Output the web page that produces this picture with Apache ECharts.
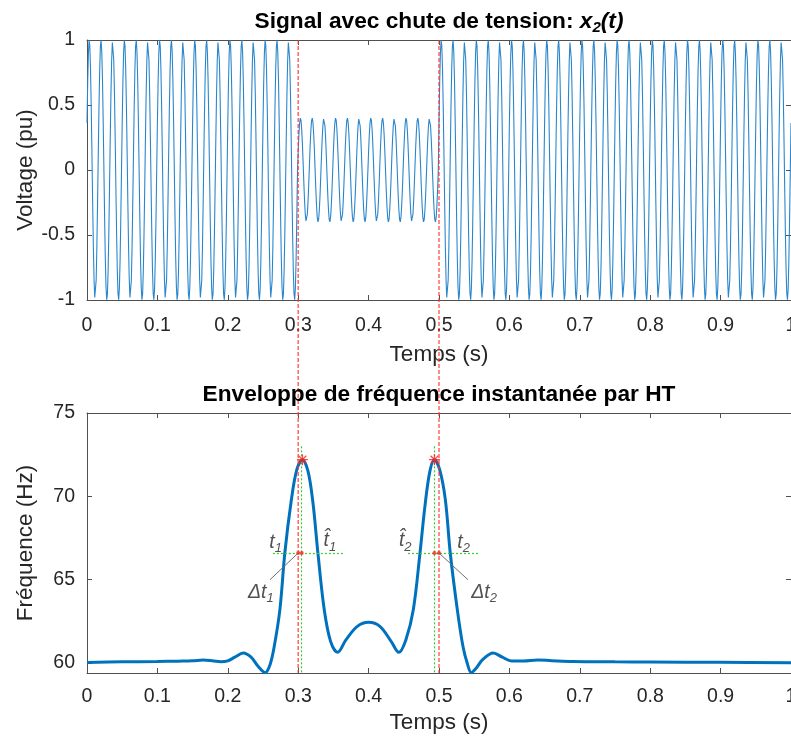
<!DOCTYPE html>
<html><head><meta charset="utf-8">
<script src="https://cdn.jsdelivr.net/npm/echarts@6/dist/echarts.min.js"></script>
<style>html,body{margin:0;padding:0;background:#fff}#c{width:791px;height:737px}</style>
</head><body><div id="c"></div>
<script>
// ---------------- DATA ----------------
const xTicks = [0, 0.1, 0.2, 0.3, 0.4, 0.5, 0.6, 0.7, 0.8, 0.9, 1];
const voltTicks = [-1, -0.5, 0, 0.5, 1];
const freqTicks = [60, 65, 70, 75];

// top signal: 60 Hz sine with a sag between 0.3 s and 0.5 s
const signalFreqHz = 60;
const signalPhaseRad = 0.37;
const segmentStart = [0, 0.3, 0.5];
const segmentEnd = [0.3, 0.5, 1.0001];
const segmentAmp = [1, 0.4, 1];
const sampleRate = 1000;

// bottom: instantaneous frequency envelope (Hz)
const envTime = [0, 0.05, 0.1, 0.13, 0.15, 0.165, 0.18, 0.19, 0.2, 0.21, 0.222, 0.233, 0.243, 0.253, 0.26, 0.266, 0.274, 0.281, 0.29, 0.298, 0.306, 0.314, 0.321, 0.328, 0.337, 0.346, 0.356, 0.368, 0.384, 0.4, 0.416, 0.432, 0.443, 0.453, 0.4635, 0.473, 0.48, 0.487, 0.4935, 0.501, 0.509, 0.516, 0.526, 0.534, 0.54, 0.546, 0.553, 0.562, 0.577, 0.59, 0.603, 0.62, 0.64, 0.66, 0.69, 0.75, 0.8, 0.9, 1.0];
const envFreq = [60.03, 60.07, 60.09, 60.11, 60.13, 60.18, 60.12, 60.08, 60.13, 60.35, 60.6, 60.35, 59.8, 59.42, 59.9, 61.0, 63.2, 66.6, 69.7, 71.6, 72.2, 71.5, 69.6, 66.6, 63.2, 61.3, 60.64, 61.4, 62.2, 62.44, 62.2, 61.3, 60.64, 61.4, 63.2, 66.6, 69.4, 71.5, 72.2, 71.6, 69.8, 66.6, 63.2, 61.0, 60.0, 59.42, 59.7, 60.2, 60.6, 60.35, 60.12, 60.12, 60.18, 60.14, 60.09, 60.07, 60.06, 60.04, 60.02];

const eventTime = [0.3, 0.5];          // red dashed lines (sag start / end)
const peakTime = [0.306, 0.4935];      // red asterisks
const peakFreq = [72.2, 72.2];
const halfLevel = 66.6;                // green horizontal level
const halfSpanStart = [0.264, 0.456];
const halfSpanEnd = [0.366, 0.557];
const greenTime = [0.305, 0.4935];
const greenTop = 73;
const dotTime = [0.3, 0.305, 0.4935, 0.5];
const leaderFrom = [[0.3, 66.6], [0.5, 66.6]];
const leaderTo = [[0.26, 65.0], [0.541, 65.0]];
const annText = ['{i|t}{s|1}', '{i|t\u0302}{s|1}', '{i|\u0394t}{s|1}', '{i|t\u0302}{s|2}', '{i|t}{s|2}', '{i|\u0394t}{s|2}'];
const annTime = [0.268, 0.345, 0.247, 0.452, 0.535, 0.564];
const annFreq = [67.3, 67.4, 64.3, 67.4, 67.3, 64.3];

// ---------------- BUILD ----------------
const signal = [];
for (let i = 0; i <= sampleRate; i++) {
  const t = i / sampleRate;
  let a = 1;
  for (let k = 0; k < segmentStart.length; k++) if (t >= segmentStart[k] && t < segmentEnd[k]) a = segmentAmp[k];
  signal.push([t, a * Math.sin(2 * Math.PI * signalFreqHz * t + signalPhaseRad)]);
}
const envData = envTime.map((t, i) => [t, envFreq[i]]);

const FONT = 'Liberation Sans';
const AX = '#505050', TXT = '#262626';

function xAxis(grid, pos, name, gap, margin) {
  return {
    type: 'value', gridIndex: grid, position: pos, min: 0, max: 1,
    name: pos === 'bottom' ? name : '', nameLocation: 'middle', nameGap: gap || 43,
    nameTextStyle: { fontFamily: FONT, fontSize: 22.5, color: TXT },
    axisLine: { show: true, onZero: false, lineStyle: { color: AX, width: 1 } },
    axisTick: { show: true, inside: true, length: 5, customValues: xTicks, lineStyle: { color: AX } },
    axisLabel: { show: pos === 'bottom', customValues: xTicks, margin: margin || 15, fontFamily: FONT, fontSize: 19.5, color: TXT },
    splitLine: { show: false }
  };
}
function yAxis(grid, pos, min, max, ticks, name) {
  return {
    type: 'value', gridIndex: grid, position: pos, min: min, max: max,
    name: pos === 'left' ? name : '', nameLocation: 'middle', nameGap: 50, nameMoveOverlap: false,
    nameTextStyle: { fontFamily: FONT, fontSize: 22.5, color: TXT },
    axisLine: { show: true, onZero: false, lineStyle: { color: AX, width: 1 } },
    axisTick: { show: true, inside: true, length: 5, customValues: ticks, lineStyle: { color: AX } },
    axisLabel: { show: pos === 'left', customValues: ticks, margin: 12, fontFamily: FONT, fontSize: 19.5, color: TXT },
    splitLine: { show: false }
  };
}

const chart = echarts.init(document.getElementById('c'), null, { renderer: 'canvas' });

const greenLines = [];
for (let k = 0; k < 2; k++) {
  greenLines.push([{ coord: [halfSpanStart[k], halfLevel] }, { coord: [halfSpanEnd[k], halfLevel] }]);
  greenLines.push([{ coord: [greenTime[k], greenTop] }, { coord: [greenTime[k], 59.4] }]);
}
const leaders = leaderFrom.map((p, k) => [{ coord: p }, { coord: leaderTo[k] }]);

const asterisk = 'path://M-0.7,-6L0.7,-6L0.7,6L-0.7,6Z M-6,-0.7L6,-0.7L6,0.7L-6,0.7Z M-4.7,-3.7L-3.7,-4.7L4.7,3.7L3.7,4.7Z M3.7,-4.7L4.7,-3.7L-3.7,4.7L-4.7,3.7Z';

chart.setOption({
  animation: false,
  backgroundColor: '#fff',
  grid: [
    { left: 87, right: 0, top: 40, height: 260, outerBoundsMode: 'none', containLabel: false },
    { left: 87, right: 0, top: 413, height: 260, outerBoundsMode: 'none', containLabel: false }
  ],
  xAxis: [xAxis(0, 'bottom', 'Temps (s)', 43, 16), xAxis(0, 'top'), xAxis(1, 'bottom', 'Temps (s)', 38, 14), xAxis(1, 'top')],
  yAxis: [yAxis(0, 'left', -1, 1, voltTicks, 'Voltage (pu)'), yAxis(0, 'right', -1, 1, voltTicks),
          yAxis(1, 'left', 59.4, 75, freqTicks, 'Fr\u00e9quence (Hz)'), yAxis(1, 'right', 59.4, 75, freqTicks)],
  series: [
    { type: 'line', xAxisIndex: 0, yAxisIndex: 0, data: signal, showSymbol: false, symbol: 'none',
      lineStyle: { color: '#2a86cc', width: 1.1 }, z: 2 },
    { type: 'line', xAxisIndex: 2, yAxisIndex: 2, data: [], symbol: 'none',
      markLine: { silent: true, symbol: 'none', label: { show: false },
        lineStyle: { color: '#33cc33', width: 1.2, type: [2, 2] }, data: greenLines }, z: 1 },
    { type: 'line', xAxisIndex: 2, yAxisIndex: 2, data: envData, showSymbol: false, symbol: 'none',
      smooth: 0.35, lineStyle: { color: '#0072BD', width: 3 }, z: 3 },
    { type: 'line', xAxisIndex: 2, yAxisIndex: 2, data: [], symbol: 'none',
      markLine: { silent: true, symbol: 'none', label: { show: false },
        lineStyle: { color: '#707070', width: 1, type: 'solid' }, data: leaders }, z: 4 },
    { type: 'scatter', xAxisIndex: 2, yAxisIndex: 2, data: dotTime.map(t => [t, halfLevel]),
      symbol: 'circle', symbolSize: 4, itemStyle: { color: '#ff2020' }, z: 6 },
    { type: 'scatter', xAxisIndex: 2, yAxisIndex: 2, data: peakTime.map((t, i) => [t, peakFreq[i]]),
      symbol: asterisk, symbolSize: 11, itemStyle: { color: '#ff1a1a' }, z: 7 },
    { type: 'scatter', xAxisIndex: 2, yAxisIndex: 2, data: annTime.map((t, i) => [t, annFreq[i], annText[i]]),
      symbolSize: 0, z: 8, silent: true,
      label: { show: true, position: 'inside', formatter: p => p.data[2],
        rich: {
          i: { fontFamily: FONT, fontStyle: 'italic', fontSize: 19.5, color: '#262626', lineHeight: 22, verticalAlign: 'bottom' },
          s: { fontFamily: FONT, fontStyle: 'italic', fontSize: 13, color: '#262626', lineHeight: 13, verticalAlign: 'bottom', padding: [0, 0, -3, 0] }
        } } }
  ]
});

// red dashed lines spanning both plots + titles, positioned through the library's scales
const gfx = [];
eventTime.forEach(t => {
  const p1 = chart.convertToPixel({ gridIndex: 0 }, [t, 1]);
  const p2 = chart.convertToPixel({ gridIndex: 1 }, [t, 59.4]);
  gfx.push({ type: 'line', z: 100, silent: true,
    shape: { x1: p1[0], y1: p1[1], x2: p2[0], y2: p2[1] },
    style: { stroke: 'rgba(255,50,50,0.75)', lineWidth: 1.5, lineDash: [4, 2] } });
});
const c0 = chart.convertToPixel({ gridIndex: 0 }, [0.5, 1]);
const c1 = chart.convertToPixel({ gridIndex: 1 }, [0.5, 75]);
const titleRich = {
  b: { fontFamily: FONT, fontWeight: 'bold', fontSize: 22.7, fill: '#000', lineHeight: 27, verticalAlign: 'bottom' },
  bi: { fontFamily: FONT, fontWeight: 'bold', fontStyle: 'italic', fontSize: 22.7, fill: '#000', lineHeight: 27, verticalAlign: 'bottom' },
  bs: { fontFamily: FONT, fontWeight: 'bold', fontStyle: 'italic', fontSize: 15, fill: '#000', lineHeight: 15, verticalAlign: 'bottom', padding: [0, 0, -2, 0] }
};
gfx.push({ type: 'text', x: c0[0], y: c0[1] - 7, z: 100,
  style: { text: '{b|Signal avec chute de tension: }{bi|x}{bs|2}{bi|(t)}', rich: titleRich, align: 'center', verticalAlign: 'bottom' } });
gfx.push({ type: 'text', x: c1[0], y: c1[1] - 7, z: 100,
  style: { text: '{b|Enveloppe de fr\u00e9quence instantan\u00e9e par HT}', rich: titleRich, align: 'center', verticalAlign: 'bottom' } });
chart.setOption({ graphic: gfx });
</script>
</body></html>
